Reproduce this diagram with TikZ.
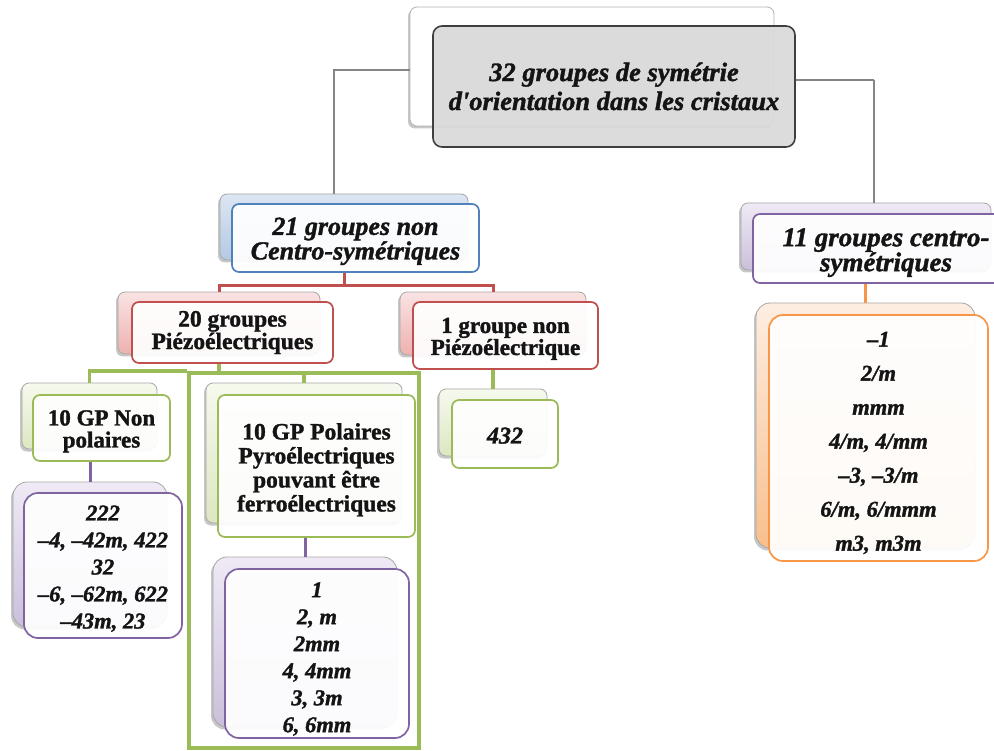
\documentclass[tikz,border=0pt]{standalone}
\usepackage{fontspec}
\setmainfont{Liberation Serif}[BoldFeatures={FakeBold=1.4},BoldItalicFeatures={FakeBold=1.4}]
\usetikzlibrary{shadows}

\definecolor{linkgray}{HTML}{858585}
\definecolor{accblue}{HTML}{4F81BD}
\definecolor{accred}{HTML}{C0504D}
\definecolor{accgreen}{HTML}{9BBB59}
\definecolor{accpurple}{HTML}{8064A2}
\definecolor{accorange}{HTML}{F79646}
\definecolor{titlefill}{HTML}{D9D9D9}
\definecolor{titleedge}{HTML}{3F3F3F}
\definecolor{ink}{HTML}{141414}
% gradient ends of the back layers
\definecolor{blueT}{HTML}{DCE6F2}
\definecolor{blueB}{HTML}{B4C9E3}
\definecolor{redT}{HTML}{FAE3E3}
\definecolor{redB}{HTML}{EDB1B0}
\definecolor{greenT}{HTML}{F6F9EE}
\definecolor{greenB}{HTML}{DCE7C2}
\definecolor{purpT}{HTML}{EFEAF5}
\definecolor{purpB}{HTML}{CBBFDB}
\definecolor{orT}{HTML}{FDEEE2}
\definecolor{orB}{HTML}{F9BF8C}

% fixed height of the first text line, so every box text sits alike
\newcommand\firstline[1]{\rule{0pt}{#1em}}

\begin{document}
\begin{tikzpicture}[x=1pt,y=-1pt,
  % place a node by its corners (x1/y1/x2/y2)
  spanbox/.style args={#1/#2/#3/#4}{at={({(#1+#3)/2},{(#2+#4)/2})},
    minimum width={#3-#1}, minimum height={#4-#2}, inner sep=0pt},
  backbox/.style n args={2}{draw=black!35, line width=0.8pt, rounded corners=7pt,
    top color=#1, bottom color=#2,
    drop shadow={shadow xshift=-2pt, shadow yshift=-2.5pt, opacity=.22, fill=black}},
  frontbox/.style={draw=#1, line width=1.7pt, rounded corners=7pt, fill=white,
    fill opacity=.92, text opacity=1, text=ink, align=center},
  valback/.style n args={2}{backbox={#1}{#2}, rounded corners=14pt},
  valfront/.style={frontbox=#1, rounded corners=14pt},
  headit/.style={font=\fontsize{26}{23.5}\selectfont\bfseries\itshape},
  headbf/.style={font=\fontsize{23}{22}\selectfont\bfseries},
  vals/.style={font=\fontsize{22.5}{27}\selectfont\bfseries\itshape},
  link/.style={draw=#1, line width=3pt},
  graylink/.style={draw=linkgray, line width=2.6pt},
]
\useasboundingbox (0,0) rectangle (994,751);

% ---- elbow points of the connectors
\coordinate (tl) at (334,70);
\coordinate (tr) at (874,80);
\coordinate (rj) at (344,286);
\coordinate (gj) at (219,373);

% ---- boxes (back layers)
\node[backbox={white}{white}, draw=black!30, spanbox=410/7/774/126] (tback) {};
\node[backbox={blueT}{blueB}, spanbox=220/194/468/260] (b21) {};
\node[backbox={redT}{redB}, spanbox=118/292/320/354] (b20) {};
\node[backbox={redT}{redB}, spanbox=400/292/586/355] (b1) {};
\node[backbox={purpT}{purpB}, spanbox=741/203/991/270] (b11) {};

% ---- connectors between the levels
\draw[graylink] (tback.west |- tl) -- (tl) -- (tl |- b21.north);
\draw[graylink] (tr) -- (tr |- b11.north);
\draw[link=accred] (b20.north) |- (rj) -| (b1.north);

% ---- title box
\node[frontbox=titleedge, fill=titlefill, line width=1.6pt, rounded corners=9pt,
      spanbox=433/26/795/147, font=\fontsize{26.5}{29}\selectfont\bfseries\itshape]
      (tfront) {32 groupes de symétrie\\d\textquotesingle orientation dans les cristaux};
\draw[graylink] (tfront.east |- tr) -- (tr);

% ---- green frame around the polar branch
\node[draw=accgreen, line width=3.6pt, spanbox=189/373/419/748] (frame) {};

% ---- second level front boxes
\node[frontbox=accblue, spanbox=232/204/479/272, headit] (f21)
      {\firstline{0.92}21 groupes non\\Centro-symétriques};
\node[frontbox=accred, spanbox=132/302/333/363, font=\fontsize{23.5}{20.5}\selectfont\bfseries] (f20)
      {20 groupes\\Piézoélectriques};
\node[frontbox=accred, spanbox=413/302/598/369, headbf] (f1)
      {\firstline{0.95}1 groupe non\\Piézoélectrique};
\node[frontbox=accpurple, spanbox=753/214/1019/283,
      font=\fontsize{27}{25}\selectfont\bfseries\itshape] (f11)
      {\firstline{0.97}11 groupes centro-\\symétriques};
\draw[link=accred] (f21.south -| rj) -- (rj);

% ---- third level
\draw[link=accgreen, line width=3.6pt] (gj |- f20.south) -- (gj);
\node[backbox={greenT}{greenB}, spanbox=22/383/157/449] (bnp) {};
\node[backbox={greenT}{greenB}, spanbox=206/383/402/523] (bpo) {};
\node[backbox={greenT}{greenB}, spanbox=439/389/547/456] (b432) {};
\draw[link=accgreen, line width=3.6pt] (bnp.north) |- (frame.north west);
\draw[link=accgreen, line width=3.6pt] (bpo.north) -- (bpo.north |- frame.north);
\draw[link=accgreen, line width=3.6pt] (b432.north |- f1.south) -- (b432.north);
\node[frontbox=accgreen, spanbox=33/395/170/461, headbf] (fnp)
      {\firstline{0.95}10 GP Non\\polaires};
\node[frontbox=accgreen, spanbox=218/395/415/537,
      font=\fontsize{23.5}{24}\selectfont\bfseries] (fpo)
      {\firstline{1.02}10 GP Polaires\\Pyroélectriques\\pouvant être\\ferroélectriques};
\node[frontbox=accgreen, spanbox=452/400/558/468, font=\fontsize{24}{27}\selectfont\bfseries\itshape] (f432) {\firstline{0.8}432};

% ---- lists of point groups
\node[valback={purpT}{purpB}, spanbox=13/482/167/627] (vbnp) {};
\node[valback={purpT}{purpB}, spanbox=213/557/397/727] (vbpo) {};
\node[valback={orT}{orB}, spanbox=756/303/975/548] (vb11) {};
\draw[link=accpurple] (vbnp.north |- fnp.south) -- (vbnp.north);
\draw[link=accpurple] (vbpo.north |- fpo.south) -- (vbpo.north);
\draw[link=accorange] (vb11.north |- f11.south) -- (vb11.north);
\node[valfront=accpurple, spanbox=24/493/182/638, vals] (vfnp)
      {\firstline{0.95}222\\–4, –42m, 422\\32\\–6, –62m, 622\\–43m, 23};
\node[valfront=accpurple, spanbox=225/569/409/738, vals] (vfpo)
      {\firstline{1.15}1\\2, m\\2mm\\4, 4mm\\3, 3m\\6, 6mm};
\node[valfront=accorange, spanbox=769/315/988/561,
      font=\fontsize{22.5}{34}\selectfont\bfseries\itshape] (vf11)
      {\firstline{1.1}–1\\2/m\\mmm\\4/m, 4/mm\\–3, –3/m\\6/m, 6/mmm\\m3, m3m};
\end{tikzpicture}
\end{document}
